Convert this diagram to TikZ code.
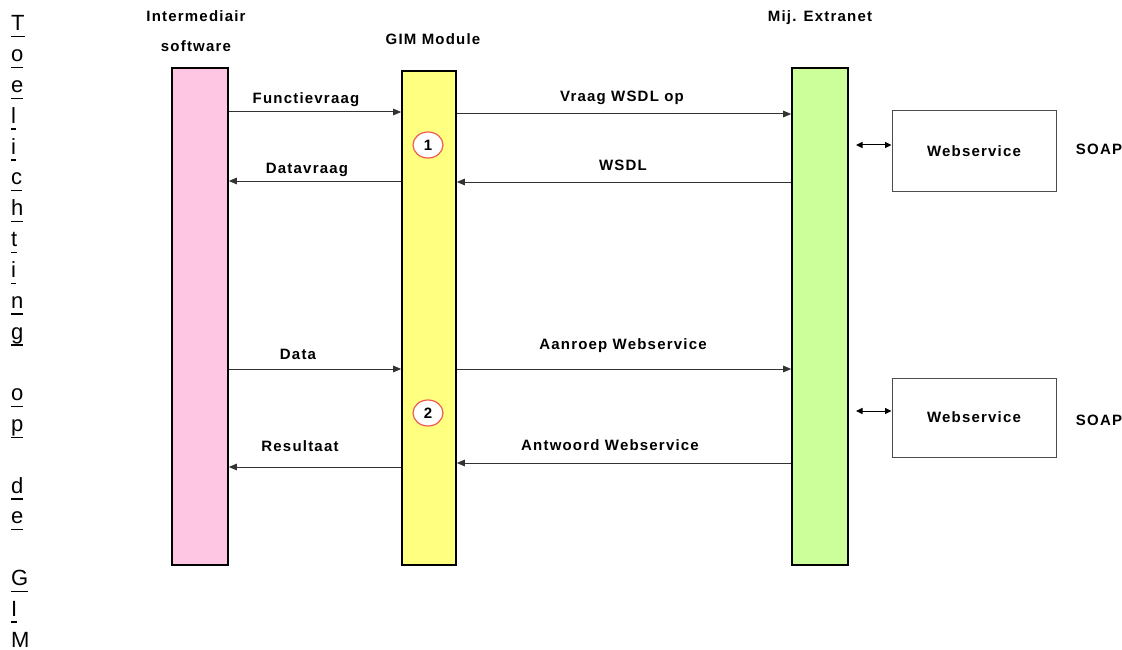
\documentclass[tikz,border=0pt]{standalone}
\usepackage{fontspec}
\setmainfont{Liberation Sans}
\newfontfamily\labfont[LetterSpace=8]{Liberation Sans}
\usetikzlibrary{arrows.meta,shapes.geometric}
\definecolor{pinkbar}{HTML}{FFC6E3}
\definecolor{yellowbar}{HTML}{FFFF80}
\definecolor{greenbar}{HTML}{CCFF99}
\definecolor{circred}{HTML}{F05A50}
\newcommand\ulet[1]{\setbox0\hbox{#1}\rlap{\rule[-6.5pt]{\wd0}{1.4pt}}\box0}
\begin{document}
\begin{tikzpicture}[x=1pt,y=-1pt,
  lab/.style={font=\labfont\bfseries\fontsize{15}{18}\selectfont, inner sep=0pt, anchor=base},
  bar/.style={draw=black, line width=1.6pt, inner sep=0pt},
  msg/.style={draw=black!80, line width=1pt, -{Triangle[length=8pt,width=6.5pt]}},
  dbl/.style={draw=black, line width=1pt, {Triangle[length=6.5pt,width=6pt]}-{Triangle[length=6.5pt,width=6pt]}},
  wsbox/.style={draw=black!70, line width=1pt, minimum width=164, minimum height=80, inner sep=0pt, font=\labfont\bfseries\fontsize{15}{18}\selectfont},
  num/.style={ellipse, draw=circred, fill=white, line width=1.2pt, minimum width=30, minimum height=26, inner sep=0pt, font=\bfseries\fontsize{15}{18}\selectfont},
  letter/.style={anchor=base west, inner sep=0pt, font=\fontsize{22}{26}\selectfont}
]
\useasboundingbox (0,0) rectangle (1122,650);

% vertical caption letters
\foreach \ch/\n in {T/0,o/1,e/2,l/3,i/4,c/5,h/6,t/7,i/8,n/9,g/10,o/12,p/13,d/15,e/16,G/18,I/19,M/20}
  \node[letter] (L\n) at (11,{31+30.8*\n}) {\ulet{\ch}};

% column titles
\node[lab] (tIm) at (196,22) {Intermediair};
\node[lab] (tSw) at (196,52) {software};
\node[lab] (tGim) at (433,45) {GIM Module};
\node[lab] (tMij) at (820,22) {Mij. Extranet};

% bars
\node[bar, fill=pinkbar, minimum width=56, minimum height=497] (inter) at (200,316.5) {};
\node[bar, fill=yellowbar, minimum width=54, minimum height=494] (gim) at (429,318) {};
\node[bar, fill=greenbar, minimum width=56, minimum height=497] (ext) at (820,316.5) {};

% y levels
\coordinate (yA) at (0,112);
\coordinate (yB) at (0,114);
\coordinate (yC) at (0,182);
\coordinate (yD) at (0,181);
\coordinate (yE) at (0,369);
\coordinate (yF) at (0,369);
\coordinate (yG) at (0,467);
\coordinate (yH) at (0,463);

% messages
\draw[msg] (inter.east |- yA) -- (gim.west |- yA);
\draw[msg] (gim.east |- yB) -- (ext.west |- yB);
\draw[msg] (ext.west |- yC) -- (gim.east |- yC);
\draw[msg] (gim.west |- yD) -- (inter.east |- yD);
\draw[msg] (inter.east |- yE) -- (gim.west |- yE);
\draw[msg] (gim.east |- yF) -- (ext.west |- yF);
\draw[msg] (gim.west |- yG) -- (inter.east |- yG);
\draw[msg] (ext.west |- yH) -- (gim.east |- yH);

% message labels
\node[lab] (lF) at (306,104) {Functievraag};
\node[lab] (lV) at (622,102) {Vraag WSDL op};
\node[lab] (lW) at (623,171) {WSDL};
\node[lab] (lDv) at (307,173) {Datavraag};
\node[lab] (lD) at (298,359) {Data};
\node[lab] (lA) at (623,349) {Aanroep Webservice};
\node[lab] (lR) at (300,451) {Resultaat};
\node[lab] (lAw) at (610,450) {Antwoord Webservice};

% step numbers
\node[num] (c1) at (428,145) {1};
\node[num] (c2) at (428,413) {2};

% webservices
\node[wsbox] (ws1) at (974,151) {Webservice};
\node[wsbox, minimum height=79] (ws2) at (974,417.5) {Webservice};
\coordinate (d1) at (856,145);
\coordinate (d2) at (856,411);
\draw[dbl] (d1) -- (ws1.west |- d1);
\draw[dbl] (d2) -- (ws2.west |- d2);
\node[lab] (s1) at (1099,155) {SOAP};
\node[lab] (s2) at (1099,425) {SOAP};
\end{tikzpicture}
\end{document}
